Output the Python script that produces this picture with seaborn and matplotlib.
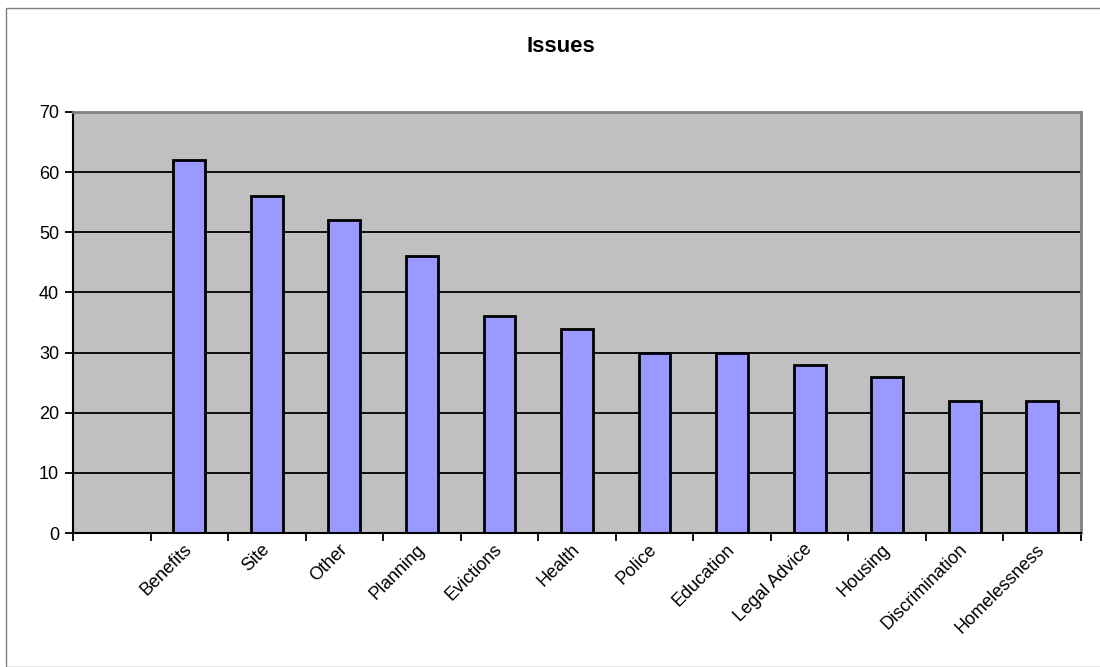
import pandas as pd
import matplotlib.pyplot as plt
import matplotlib.transforms as mtransforms
import seaborn as sns
from matplotlib.patches import Rectangle

categories = ["Benefits", "Site", "Other", "Planning", "Evictions", "Health", "Police",
              "Education", "Legal Advice", "Housing", "Discrimination", "Homelessness"]
counts = [62, 56, 52, 46, 36, 34, 30, 30, 28, 26, 22, 22]
y_ticks = [0, 10, 20, 30, 40, 50, 60, 70]

df = pd.DataFrame({"Issue": categories, "Count": counts})

sns.set_style("white")
plt.rcParams['font.family'] = ['Liberation Sans', 'DejaVu Sans']
plt.rcParams['text.color'] = 'black'
plt.rcParams['xtick.color'] = 'black'
plt.rcParams['ytick.color'] = 'black'

fig = plt.figure(figsize=(11, 6.67), dpi=100)
ax = fig.add_axes([73/1100, 1 - 533/667, (1081 - 73)/1100, (533 - 112)/667])
ax.set_facecolor("#C0C0C0")

# Excel-style gridlines behind bars
for y in y_ticks[1:-1]:
    ax.axhline(y, color="black", lw=1.3, zorder=0)

sns.barplot(data=df, x="Issue", y="Count", color="#9999FF", width=0.41,
            edgecolor="black", linewidth=2, saturation=1, ax=ax, zorder=2)

ax.set_xlim(-1.5, len(categories) - 0.5)
ax.set_ylim(0, 70)
ax.set_yticks(y_ticks)
ax.set_yticklabels([str(v) for v in y_ticks], fontsize=13)
ax.tick_params(axis="y", direction="out", length=6, width=1.3, color="black", pad=4, left=True)

# labels at bar centres, tick marks at category boundaries
ax.set_xticks(range(len(categories)))
ax.set_xticklabels(categories, fontsize=13, rotation=45, ha="right", va="center",
                   rotation_mode="anchor")
shift = mtransforms.ScaledTranslation(5/100, 0, fig.dpi_scale_trans)
for lbl in ax.get_xticklabels():
    lbl.set_transform(lbl.get_transform() + shift)
ax.set_xticks([i - 0.5 for i in range(-1, len(categories) + 1)], minor=True)
ax.tick_params(axis="x", which="major", length=0, pad=10)
ax.tick_params(axis="x", which="minor", direction="out", length=6, width=1.3,
               color="black", bottom=True)
ax.set_xlabel("")
ax.set_ylabel("")

for side in ["left", "bottom"]:
    ax.spines[side].set_color("black")
    ax.spines[side].set_linewidth(1.5)
for side in ["top", "right"]:
    ax.spines[side].set_color("#808080")
    ax.spines[side].set_linewidth(2)

fig.text(561/1100, 1 - 46/667, "Issues", ha="center", va="center",
         fontsize=16, fontweight="bold")

fig.patches.append(Rectangle((6/1100, 0), 1.0, 1 - 8/667, transform=fig.transFigure,
                             fill=False, edgecolor="#808080", lw=1))

fig.savefig("out.png", dpi=100, facecolor="white")
